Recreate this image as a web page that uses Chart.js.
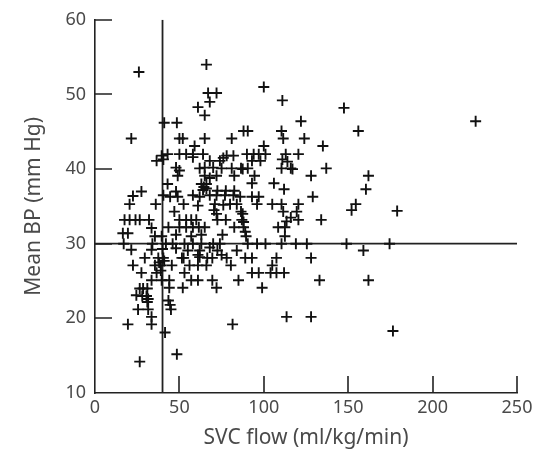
<!DOCTYPE html>
<html>
<head>
<meta charset="utf-8">
<script src="https://cdn.jsdelivr.net/npm/chart.js@4.4.1/dist/chart.umd.min.js"></script>
<style>
html,body{margin:0;padding:0;background:#fff;}
#wrap{width:542px;height:455px;}
</style>
</head>
<body>
<div id="wrap"><canvas id="c" width="542" height="455"></canvas></div>
<script>
// SVC flow (ml/kg/min) values of each observation
const svcFlow = [
26,66,100,67,72,68,111,61,65,147.5,122,225.5,41,48.5,88,90.5,110.5,156,21.5,50,52,65,81,111.5,124,59,100,135,
39.5,43,50,54,58,64,78,82,90,94,97,101,113,120.5,
36.5,40.5,58,68,74,93,98,111,114,76,
48,50,62,65,70,75,81,86.5,87.5,90.5,110.5,116,117,137,
49,65,72,82.5,94.5,128,162,68,
43,63,66,93,106,64.5,
27.5,48,64,66,72.5,77.5,82.5,112,160.5,
22.5,40.5,44.5,49,58,62,68,72,77,82,86,93,97,129,
20.5,36,52.5,61,71,76,80,84,96,105,110.5,120.5,154.5,
47,70.5,86.5,87.5,111.5,119.5,152,179,72,
17.5,20.5,24,26.5,32,50,54,57,60,72.5,77.5,87,88,113.5,120.5,134,116,
33.5,43.5,50,54,58,61.5,65,82.5,88,108.5,112.5,89,
16.5,19.5,35.5,39.5,48,63,75.5,89.5,112.5,57,
17,34,42,46,53,58,63,70,74,90.5,96,101,110.5,119,125.5,149,174.5,
21.5,33.5,40,55,62,72.5,84,159,48,68,
29.5,37.5,40.5,41,51.5,52.5,61,62,66.5,69.5,78,89,93,107.5,128,75,
22.5,35.5,39,45.5,56,61,66,80.5,105,38,
27.5,36.5,53,93,97,104,107.5,112,39,
33.5,39.5,44,57,61,69.5,85,133,162,
26.5,28.5,44,52,72,99,31,
24.5,30.5,31.5,28,31,
43.5,44.5,
25.5,31.5,45,
33.5,113.5,128,
19.5,33.5,81.5,41.5,176.5,26.5,48.5
];
// Mean BP (mm Hg) values of each observation
const meanBP = [
53,54,51,50.2,50.2,49,49.2,48.3,47.2,48.2,46.4,46.4,46.2,46.2,45.1,45.1,45.1,45.1,44.1,44.1,44.1,44.1,44.1,44.1,44.1,43.1,43.1,43.1,
41.8,42,42,42,42,42,41.8,41.8,42,42,42,42,42,42,
41.1,41.3,41.6,41.1,41.1,41.1,41.1,41.3,41,41.5,
40.2,39.8,40.1,40.2,40.2,40.1,40.1,40.1,40,40.1,40.1,40.1,40,40.1,
39.1,39.1,39.1,39.1,39.1,39.1,39.1,38.8,
38,38,38,38.1,38.1,37.6,
37,37,37.2,37.4,37.1,37.1,37.1,37.3,37.3,
36.4,36.5,36.3,36.3,36.5,36.3,36.5,36.5,36.5,36.5,36.3,36.3,36.3,36.3,
35.3,35.3,35.3,35.1,35.3,35.2,35.3,35.3,35.3,35.3,35.3,35.3,35.3,
34.3,34.5,34.3,34,34.3,34.3,34.5,34.4,34,
33.2,33.2,33.2,33.2,33.2,33.2,33.2,33.2,33.2,33.2,33.2,33.2,32.9,33,33.2,33.2,33.5,
32.1,32.2,32.2,32.2,32.2,32.2,32.2,32.2,32.2,32.2,32.2,31.6,
31.4,31.4,31,31,31.2,31.2,31.2,31,31,31,
30,30,30,30,30,30,30,30,30,30,30,30,30,30,30,30,30,
29.2,29.2,29.3,29.1,29.1,29.1,29.1,29.1,29.4,29.5,
28.1,28.1,28.1,27.7,28.1,28.1,28.5,28.2,28.1,28.1,28.1,28.1,28.1,28.1,28.1,28.5,
27.1,27.1,27.1,27.1,27.1,27.1,27.1,27.1,27.1,27.5,
26.1,26.1,26.1,26.1,26.1,26.1,26.1,26.1,26.4,
25.1,25.1,25.1,25.1,25.1,25.1,25.1,25.1,25.1,
24,24,24.1,24.1,24.1,24.1,24,
23.1,23,22.6,23,22.2,
22.4,21.8,
21.2,21.2,21.2,
20.2,20.2,20.2,
19.2,19.2,19.2,18.1,18.3,14.2,15.2
];
// cut-off reference lines
const flowCutoff = 40;
const bpCutoff = 30;
const xTicks = [0, 50, 100, 150, 200, 250];
const yTicks = [10, 20, 30, 40, 50, 60];

const points = svcFlow.map((x, i) => ({x: x, y: meanBP[i]}));
const FONT = "'Noto Sans', 'DejaVu Sans', sans-serif";
const TXT = '#4a4a4a';

const inwardTicks = {
  id: 'inwardTicks',
  afterDraw(chart) {
    const ctx = chart.ctx, xs = chart.scales.x, ys = chart.scales.y;
    const a = chart.chartArea, len = 17;
    ctx.save();
    ctx.strokeStyle = '#222';
    ctx.lineWidth = 1.6;
    ctx.beginPath();
    xTicks.slice(1).forEach(v => {
      const px = Math.round(xs.getPixelForValue(v));
      ctx.moveTo(px, a.bottom);
      ctx.lineTo(px, a.bottom - len);
    });
    yTicks.slice(1).forEach(v => {
      const py = Math.round(ys.getPixelForValue(v));
      ctx.moveTo(a.left, py);
      ctx.lineTo(a.left + len, py);
    });
    ctx.stroke();
    ctx.restore();
  }
};

new Chart(document.getElementById('c'), {
  type: 'scatter',
  data: {
    datasets: [
      {
        data: points,
        pointStyle: 'cross',
        pointRadius: 5.5,
        pointHoverRadius: 5.5,
        borderColor: '#111',
        backgroundColor: '#111',
        borderWidth: 1.9
      },
      {
        data: [{x: flowCutoff, y: yTicks[0]}, {x: flowCutoff, y: yTicks[yTicks.length - 1]}],
        showLine: true, pointRadius: 0, borderColor: '#222', borderWidth: 1.8, fill: false
      },
      {
        data: [{x: xTicks[0], y: bpCutoff}, {x: xTicks[xTicks.length - 1], y: bpCutoff}],
        showLine: true, pointRadius: 0, borderColor: '#222', borderWidth: 1.8, fill: false
      }
    ]
  },
  options: {
    responsive: false,
    animation: false,
    devicePixelRatio: 1,
    layout: {padding: {top: 16, right: 25, left: 0, bottom: 0}},
    plugins: {legend: {display: false}, tooltip: {enabled: false}},
    scales: {
      x: {
        type: 'linear', min: 0, max: 250,
        afterBuildTicks: s => { s.ticks = xTicks.map(v => ({value: v})); },
        ticks: {color: TXT, font: {family: FONT, size: 18}, padding: 4, maxRotation: 0},
        grid: {display: false, drawTicks: false},
        border: {display: true, color: '#222', width: 1.6},
        title: {display: true, text: 'SVC flow (ml/kg/min)', color: TXT,
                font: {family: FONT, size: 21}, padding: {top: 0, bottom: 4}},
        afterFit: s => { s.height = 62; }
      },
      y: {
        type: 'linear', min: 10, max: 60,
        afterBuildTicks: s => { s.ticks = yTicks.map(v => ({value: v})); },
        ticks: {color: TXT, font: {family: FONT, size: 18}, padding: 9},
        grid: {display: false, drawTicks: false},
        border: {display: true, color: '#222', width: 1.6},
        title: {display: true, text: 'Mean BP (mm Hg)', color: TXT,
                font: {family: FONT, size: 21}, padding: {top: 21, bottom: 0}},
        afterFit: s => { s.width = 95; }
      }
    }
  },
  plugins: [inwardTicks]
});
</script>
</body>
</html>
